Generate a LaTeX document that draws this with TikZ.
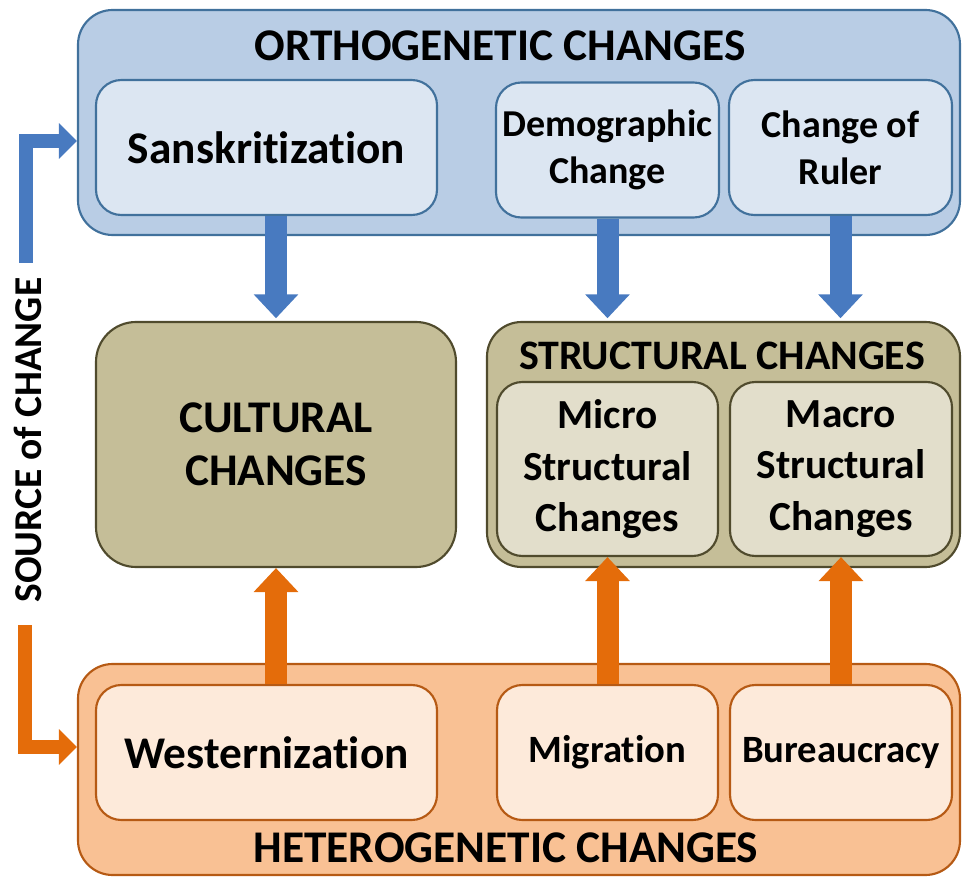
\documentclass[tikz,border=0pt]{standalone}
\usepackage{fontspec}
\setmainfont{Carlito}[Ligatures=NoCommon]
\usetikzlibrary{arrows.meta}

\definecolor{orthoFill}{RGB}{185,205,229}
\definecolor{orthoInner}{RGB}{220,230,242}
\definecolor{orthoLine}{RGB}{65,113,156}
\definecolor{orthoArrow}{RGB}{72,122,192}
\definecolor{heteroFill}{RGB}{249,193,148}
\definecolor{heteroInner}{RGB}{253,234,218}
\definecolor{heteroLine}{RGB}{182,90,20}
\definecolor{heteroArrow}{RGB}{228,108,10}
\definecolor{khakiFill}{RGB}{197,190,152}
\definecolor{khakiInner}{RGB}{226,222,203}
\definecolor{khakiLine}{RGB}{80,75,45}

\newcommand{\bigfont}{\fontsize{34}{40}\selectfont\bfseries}
\newcommand{\midfont}{\fontsize{31}{38.5}\selectfont\bfseries}
\newcommand{\smallfont}{\fontsize{28.5}{35}\selectfont\bfseries}

\tikzset{every picture/.style={line width=0.75pt}}
\tikzset{
  outerbox/.style={rounded corners=26pt, line width=1.6pt, inner sep=0pt},
  innerbox/.style={rounded corners=19pt, line width=1.6pt, inner sep=0pt, align=center, font=\smallfont, text=black},
  titletext/.style={font=\bigfont, text=black, inner sep=0.75pt},
  orthoouter/.style={outerbox, draw=orthoLine, fill=orthoFill},
  orthoinner/.style={innerbox, draw=orthoLine, fill=orthoInner},
  heteroouter/.style={outerbox, draw=heteroLine, fill=heteroFill},
  heteroinner/.style={innerbox, draw=heteroLine, fill=heteroInner},
  khakiouter/.style={outerbox, draw=khakiLine, fill=khakiFill},
  khakiinner/.style={innerbox, draw=khakiLine, fill=khakiInner, font=\midfont},
  bigarrow/.style={line width=16.5pt, -{Triangle[length=18pt,width=32.5pt]}},
  sidearrow/.style={line width=11pt, -{Triangle[length=13.5pt,width=26pt]}},
}

\begin{document}
\begin{tikzpicture}[x=0.75pt,y=0.75pt,yscale=-1,xscale=1]
\path[use as bounding box] (0,0) rectangle (963,877);

%Shape: Rounded Rect [ortho]
\node [orthoouter, minimum width=661.5pt, minimum height=168.75pt] (ortho) at (519,122.5) {};
\node [orthoinner, minimum width=255.75pt, minimum height=101.25pt, font=\bigfont] (san) at (266.5,147.5) {Sanskritization};
\node [orthoinner, minimum width=167.25pt, minimum height=101.25pt] (demog) at (607.5,150) {Demographic\\Change};
\node [orthoinner, minimum width=167.25pt, minimum height=101.25pt] (ruler) at (840.5,147.5) {Change of\\Ruler};

%Shape: Rounded Rect [cultural]
\node [khakiouter, minimum width=270pt, minimum height=183.75pt, rounded corners=30pt, align=center, font=\bigfont] (cult) at (276,444.5) {CULTURAL\\CHANGES};

%Shape: Rounded Rect [structural]
\node [khakiouter, minimum width=354.75pt, minimum height=183.75pt] (struct) at (723.5,444.5) {};
\node [khakiinner, minimum width=165.75pt, minimum height=130.5pt] (micro) at (607.5,469) {Micro\\Structural\\Changes};
\node [khakiinner, minimum width=166.5pt, minimum height=130.5pt] (macro) at (841,469) {Macro\\Structural\\Changes};

%Shape: Rounded Rect [hetero]
\node [heteroouter, minimum width=661.5pt, minimum height=158.25pt] (hetero) at (519,769.5) {};
\node [heteroinner, minimum width=255.75pt, minimum height=101.25pt, font=\bigfont] (west) at (266.5,752.5) {Westernization};
\node [heteroinner, minimum width=165.75pt, minimum height=101.25pt, font=\fontsize{29}{35}\selectfont\bfseries] (migr) at (607.5,752.5) {Migration};
\node [heteroinner, minimum width=166.5pt, minimum height=101.25pt, font=\fontsize{29}{35}\selectfont\bfseries] (bureau) at (841,752.5) {Bureaucracy};

% Text Node
\node [titletext] (orthoTitle) at (500,46) {ORTHOGENETIC CHANGES};
% Text Node
\node [titletext, font={\fontsize{31.5}{38}\selectfont\bfseries}] (structTitle) at (722,356) {STRUCTURAL CHANGES};
% Text Node
\node [titletext] (heteroTitle) at (506,848) {HETEROGENETIC CHANGES};
% Text Node
\node [titletext, rotate=90, font={\fontsize{29.6}{36}\selectfont\bfseries}] (source) at (28,440) {SOURCE of CHANGE};

%Block Arrows [down]
\draw [bigarrow, orthoArrow] (san.south -| cult.north) -- ([yshift=-2pt]cult.north);
\draw [bigarrow, orthoArrow] (demog.south) -- ([yshift=-2pt]demog.south |- struct.north);
\draw [bigarrow, orthoArrow] (ruler.south) -- ([yshift=-2pt]ruler.south |- struct.north);
%Block Arrows [up]
\draw [bigarrow, heteroArrow] (west.north -| cult.south) -- (cult.south);
\draw [bigarrow, heteroArrow] (migr.north) -- (micro.south);
\draw [bigarrow, heteroArrow] (bureau.north) -- (macro.south);

%Elbow Arrows
\coordinate (srcTop) at (26,263);
\coordinate (srcBot) at (25,625);
\draw [sidearrow, orthoArrow] (srcTop) |- (ortho.west |- 0,141);
\draw [sidearrow, heteroArrow] (srcBot) |- (hetero.west |- 0,747);

\end{tikzpicture}
\end{document}
